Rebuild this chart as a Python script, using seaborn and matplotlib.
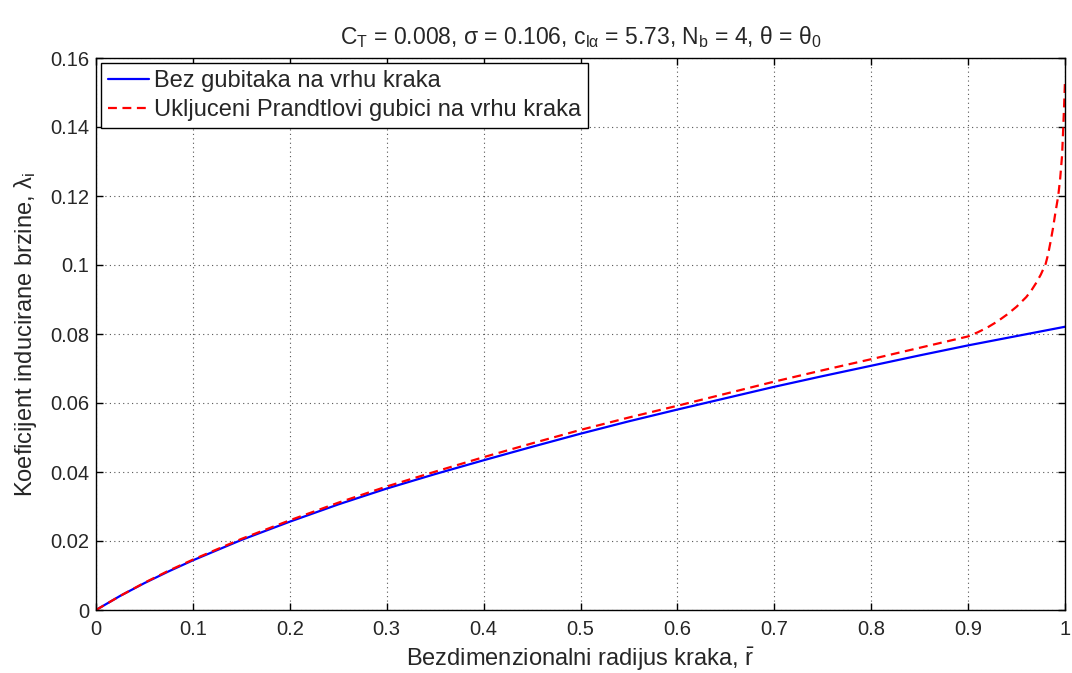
import matplotlib
matplotlib.use("Agg")
import matplotlib.pyplot as plt
import seaborn as sns
import pandas as pd
from matplotlib.ticker import FuncFormatter

# Radial stations and induced inflow without tip losses
r_ideal = [0.0, 0.025, 0.05, 0.075, 0.1, 0.15, 0.2, 0.25, 0.3, 0.35, 0.4, 0.45,
           0.5, 0.55, 0.6, 0.65, 0.7, 0.75, 0.8, 0.85, 0.9, 0.95, 1.0]
lam_ideal = [0.0, 0.0041, 0.0078, 0.0112, 0.0144, 0.0203, 0.0256, 0.0306, 0.0352,
             0.0394, 0.0434, 0.0473, 0.0511, 0.0547, 0.0581, 0.0614, 0.0647,
             0.0678, 0.0708, 0.0738, 0.0767, 0.0794, 0.0821]

# Radial stations and induced inflow with Prandtl tip-loss factor
r_prandtl = [0.0, 0.025, 0.05, 0.075, 0.1, 0.15, 0.2, 0.25, 0.3, 0.35, 0.4, 0.45,
             0.5, 0.55, 0.6, 0.65, 0.7, 0.75, 0.8, 0.85, 0.9, 0.91, 0.92, 0.93,
             0.94, 0.95, 0.96, 0.965, 0.97, 0.975, 0.98, 0.9825, 0.985, 0.9875,
             0.99, 0.993, 0.995, 0.997, 0.998, 0.999, 1.0]
lam_prandtl = [0.0, 0.0041, 0.0079, 0.0114, 0.0146, 0.0206, 0.0260, 0.0311, 0.0358,
               0.0401, 0.0443, 0.0483, 0.0522, 0.0558, 0.0592, 0.0627, 0.0662,
               0.0695, 0.0727, 0.0760, 0.0793, 0.0805, 0.0819, 0.0836,
               0.0856, 0.0879, 0.0907, 0.0925, 0.0947, 0.0972, 0.1003, 0.1030,
               0.1066, 0.1105, 0.1150, 0.1200, 0.1250, 0.1318, 0.1385, 0.1455,
               0.1535]

labels = ["Bez gubitaka na vrhu kraka", "Ukljuceni Prandtlovi gubici na vrhu kraka"]

x_ticks = [0, 0.1, 0.2, 0.3, 0.4, 0.5, 0.6, 0.7, 0.8, 0.9, 1.0]
y_ticks = [0, 0.02, 0.04, 0.06, 0.08, 0.1, 0.12, 0.14, 0.16]

df = pd.concat([
    pd.DataFrame({"r": r_ideal, "lam": lam_ideal, "case": labels[0]}),
    pd.DataFrame({"r": r_prandtl, "lam": lam_prandtl, "case": labels[1]}),
], ignore_index=True)

sns.set_theme(style="ticks")
plt.rcParams["font.family"] = ["Liberation Sans", "DejaVu Sans"]
plt.rcParams["mathtext.default"] = "regular"
plt.rcParams["xtick.direction"] = "in"
plt.rcParams["ytick.direction"] = "in"

fig = plt.figure(figsize=(10.72, 6.73), dpi=100)
ax = fig.add_axes([96 / 1072, 1 - 610 / 673, (1065 - 96) / 1072, (610 - 58) / 673])

sns.lineplot(data=df, x="r", y="lam", hue="case", style="case",
             palette={labels[0]: "#0000ff", labels[1]: "#ff0000"},
             dashes={labels[0]: "", labels[1]: (4, 2.5)},
             linewidth=1.6, sort=False, estimator=None, ax=ax)

ax.set_xlim(0, 1)
ax.set_ylim(0, 0.16)
ax.set_xticks(x_ticks)
ax.set_yticks(y_ticks)
fmt = FuncFormatter(lambda v, _: f"{v:g}")
ax.xaxis.set_major_formatter(fmt)
ax.yaxis.set_major_formatter(fmt)
ax.tick_params(axis="both", which="major", labelsize=14.5, length=5, width=1,
               color="black", top=True, right=True, pad=5)
ax.tick_params(axis="x", pad=7)

ax.grid(True, linestyle=(0, (1, 3)), color="#555555", linewidth=0.8)
for s in ax.spines.values():
    s.set_visible(True)
    s.set_color("black")
    s.set_linewidth(1.0)

ax.set_xlabel(r"Bezdimenzionalni radijus kraka, $\bar{r}$", fontsize=17, labelpad=5)
ax.set_ylabel(r"Koeficijent inducirane brzine, $\lambda_i$", fontsize=17, labelpad=8)
ax.set_title("C$_T$ = 0.008, σ = 0.106, c$_{lα}$ = 5.73, N$_b$ = 4, θ = θ$_0$",
             fontsize=16.5, pad=10)

leg = ax.legend(loc="upper left", fontsize=17, frameon=True, fancybox=False,
                edgecolor="black", framealpha=1, borderpad=0.3, labelspacing=0.3,
                handlelength=1.75, handletextpad=0.2, borderaxespad=0.2)
leg.get_frame().set_linewidth(1.0)
leg.set_title(None)

fig.savefig("out.png", dpi=100, facecolor="white")
